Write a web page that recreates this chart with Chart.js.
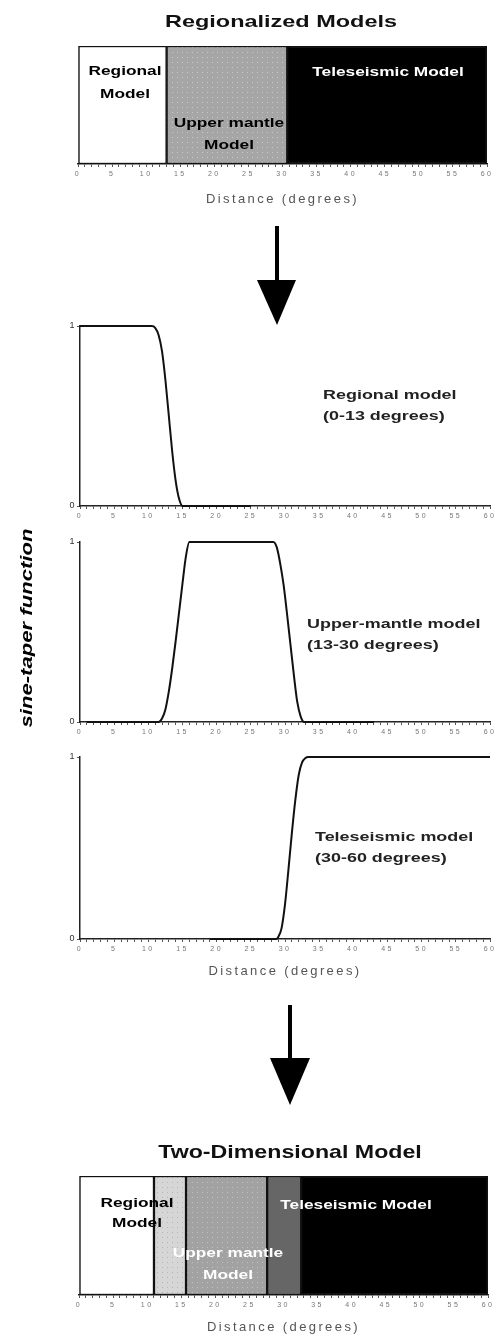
<!DOCTYPE html>
<html>
<head>
<meta charset="utf-8">
<title>Regionalized models and sine-taper functions</title>
<script src="https://cdn.jsdelivr.net/npm/chart.js@4.4.1/dist/chart.umd.min.js"></script>
<style>
  body { margin: 0; background: #fff; }
  #page { position: relative; width: 501px; height: 1337px; overflow: hidden;
          font-family: "Liberation Sans", Arial, Helvetica, sans-serif; }
  .holder { position: absolute; left: 0; width: 501px; }
  .title { position: absolute; font-weight: bold; white-space: nowrap; color: #111; z-index: 2; }
  .lbl { position: absolute; font-weight: bold; white-space: nowrap; text-align: center;
         transform: translate(-50%, -50%) scaleX(1.33); font-size: 13px; z-index: 2; }
  .note { position: absolute; font-weight: bold; white-space: nowrap; font-size: 13px;
          color: #222; line-height: 21px; z-index: 2; transform-origin: 0 50%; }
  #ylabel { position: absolute; left: 27px; top: 628px;
            transform: translate(-50%, -50%) rotate(-90deg) scaleX(1.3);
            font-size: 17px; font-weight: bold; font-style: italic; white-space: nowrap; z-index: 2; }
  #arrows { position: absolute; left: 0; top: 0; z-index: 1; }
</style>
</head>
<body>
<div id="page">
  <div class="holder" style="top:0;height:214px"><canvas id="topBox"></canvas></div>
  <div class="holder" style="top:316px;height:212px"><canvas id="regional"></canvas></div>
  <div class="holder" style="top:532px;height:212px"><canvas id="upper"></canvas></div>
  <div class="holder" style="top:747px;height:237px"><canvas id="tele"></canvas></div>
  <div class="holder" style="top:1125px;height:212px"><canvas id="bottomBox"></canvas></div>

  <svg id="arrows" width="501" height="1337">
    <line x1="277" y1="226" x2="277" y2="290" stroke="#000" stroke-width="4"/>
    <polygon points="257,280 296,280 277,325" fill="#000"/>
    <line x1="290" y1="1005" x2="290" y2="1070" stroke="#000" stroke-width="4"/>
    <polygon points="270,1058 310,1058 290,1105" fill="#000"/>
  </svg>

  <div class="title" style="left:281px;top:22px;font-size:17px;transform:translate(-50%,-50%) scaleX(1.38)">Regionalized Models</div>
  <div class="title" style="left:290px;top:1152px;font-size:19px;transform:translate(-50%,-50%) scaleX(1.22)">Two-Dimensional Model</div>

  <div class="lbl" style="left:125px;top:82px;line-height:23px">Regional<br>Model</div>
  <div class="lbl" style="left:229px;top:134px;line-height:22px">Upper mantle<br>Model</div>
  <div class="lbl" style="left:388px;top:71px;color:#fff">Teleseismic Model</div>

  <div class="note" style="left:323px;top:405px;transform:translateY(-50%) scaleX(1.38)">Regional model<br>(0-13 degrees)</div>
  <div class="note" style="left:307px;top:634px;transform:translateY(-50%) scaleX(1.38)">Upper-mantle model<br>(13-30 degrees)</div>
  <div class="note" style="left:315px;top:847px;transform:translateY(-50%) scaleX(1.38)">Teleseismic model<br>(30-60 degrees)</div>
  <div id="ylabel">sine-taper function</div>

  <div class="lbl" style="left:137px;top:1213px;line-height:20px">Regional<br>Model</div>
  <div class="lbl" style="left:228px;top:1264px;line-height:22px;color:#fff">Upper mantle<br>Model</div>
  <div class="lbl" style="left:356px;top:1204px;color:#fff">Teleseismic Model</div>
</div>

<script>
// tick labels along the distance axis (every 5 degrees)
const xTickLabels = ["0", "5", "10", "15", "20", "25", "30", "35", "40", "45", "50", "55", "60"];
const yTickLabels = ["0", "1"];

// top box: width of each zone in degrees
const topZones = ["Regional Model", "Upper mantle Model", "Teleseismic Model"];
const topWidths = [13, 17.7, 29.3];

// bottom box: zones incl. the two blend strips
const bottomZones = ["Regional", "Regional / upper mantle", "Upper mantle", "Upper mantle / teleseismic", "Teleseismic"];
const bottomWidths = [11, 4.7, 11.9, 5, 27.4];

// sine-taper curves (distance, weight)
const regionalDeg = [0, 10.5, 11, 11.5, 12, 12.5, 13, 13.5, 14, 14.5, 15, 25];
const regionalVal = [1, 1, 0.99, 0.95, 0.86, 0.7, 0.5, 0.3, 0.14, 0.04, 0, 0];

const upperDeg = [1, 11.5, 12, 12.5, 13, 13.5, 14, 14.5, 15, 15.5, 16, 28.3, 28.8, 29.3, 29.8, 30.3, 30.8, 31.3, 31.8, 32.3, 32.8, 43];
const upperVal = [0, 0, 0.02, 0.07, 0.17, 0.3, 0.45, 0.61, 0.77, 0.92, 1, 1, 0.97, 0.88, 0.76, 0.6, 0.43, 0.26, 0.11, 0.03, 0, 0];

const teleDeg = [19, 28.7, 29, 29.5, 30, 30.5, 31, 31.5, 32, 32.5, 33, 33.4, 60];
const teleVal = [0, 0, 0.01, 0.06, 0.19, 0.38, 0.58, 0.76, 0.9, 0.97, 0.995, 1, 1];

Chart.defaults.font.family = '"Liberation Sans", Arial, Helvetica, sans-serif';
Chart.defaults.animation = false;

// the scanned figure uses a very wide typeface; spread canvas text a bit
const wideText = {
  id: "wideText",
  beforeDraw(chart) {
    chart.ctx.letterSpacing = "2.4px";
  },
};

function dotted(base, dot) {
  const c = document.createElement("canvas");
  c.width = 5;
  c.height = 5;
  const g = c.getContext("2d");
  g.fillStyle = base;
  g.fillRect(0, 0, 5, 5);
  g.fillStyle = dot;
  g.fillRect(2, 2, 1, 1);
  return g.createPattern(c, "repeat");
}

function distanceAxis(axisHeight, withTitle, titlePad) {
  return {
    type: "linear",
    min: 0,
    max: 60,
    border: { color: "#222", width: 1.5 },
    grid: { drawOnChartArea: false, tickLength: 3, color: "#555" },
    ticks: {
      stepSize: 1,
      autoSkip: false,
      maxRotation: 0,
      padding: 3,
      color: "#777",
      font: { size: 7 },
      callback: (v) => (v % 5 === 0 ? xTickLabels[v / 5] : ""),
    },
    title: {
      display: withTitle,
      text: "Distance (degrees)",
      color: "#555",
      font: { size: 13 },
      padding: { top: 0, bottom: titlePad },
    },
    afterFit: (s) => {
      s.height = axisHeight;
    },
  };
}

function zoneChart(id, names, widths, fills, padT, padL, padR, axisH, axisPad) {
  return new Chart(document.getElementById(id), {
    type: "bar",
    data: {
      labels: [""],
      datasets: names.map((name, i) => ({
        label: name,
        data: [widths[i]],
        backgroundColor: fills[i],
        borderColor: "#111",
        borderWidth: 1.5,
        borderSkipped: false,
        barPercentage: 1,
        categoryPercentage: 1,
      })),
    },
    options: {
      indexAxis: "y",
      responsive: true,
      maintainAspectRatio: false,
      layout: { padding: { top: padT, left: padL, right: padR } },
      plugins: { legend: { display: false }, tooltip: { enabled: false } },
      scales: {
        x: Object.assign(distanceAxis(axisH, true, axisPad), { stacked: true }),
        y: { display: false, stacked: true },
      },
    },
    plugins: [wideText],
  });
}

function taperChart(id, deg, val, axisH, withTitle, axisPad) {
  return new Chart(document.getElementById(id), {
    type: "line",
    data: {
      datasets: [
        {
          data: deg.map((d, i) => ({ x: d, y: val[i] })),
          borderColor: "#111",
          borderWidth: 2,
          pointRadius: 0,
          cubicInterpolationMode: "monotone",
          fill: false,
          clip: 6,
        },
      ],
    },
    options: {
      responsive: true,
      maintainAspectRatio: false,
      layout: { padding: { top: 10, right: 11 } },
      plugins: { legend: { display: false }, tooltip: { enabled: false } },
      scales: {
        x: distanceAxis(axisH, withTitle, axisPad),
        y: {
          min: 0,
          max: 1,
          border: { color: "#222", width: 1.5 },
          grid: { drawOnChartArea: false, tickLength: 3, color: "#555" },
          ticks: { stepSize: 1, padding: 0, color: "#333", font: { size: 9 }, callback: (v) => yTickLabels[v] },
          afterFit: (s) => {
            s.width = 80;
          },
        },
      },
    },
    plugins: [wideText],
  });
}

zoneChart("topBox", topZones, topWidths,
  ["#ffffff", dotted("#a6a6a6", "#c9c9c9"), "#000000"], 46, 78, 14, 50, 7);

taperChart("regional", regionalDeg, regionalVal, 22, false, 0);
taperChart("upper", upperDeg, upperVal, 22, false, 0);
taperChart("tele", teleDeg, teleVal, 45, true, 5);

zoneChart("bottomBox", bottomZones, bottomWidths,
  ["#ffffff", dotted("#d6d6d6", "#b4b4b4"), dotted("#a2a2a2", "#c2c2c2"), "#666666", "#000000"], 51, 79, 13, 42, 2);
</script>
</body>
</html>
